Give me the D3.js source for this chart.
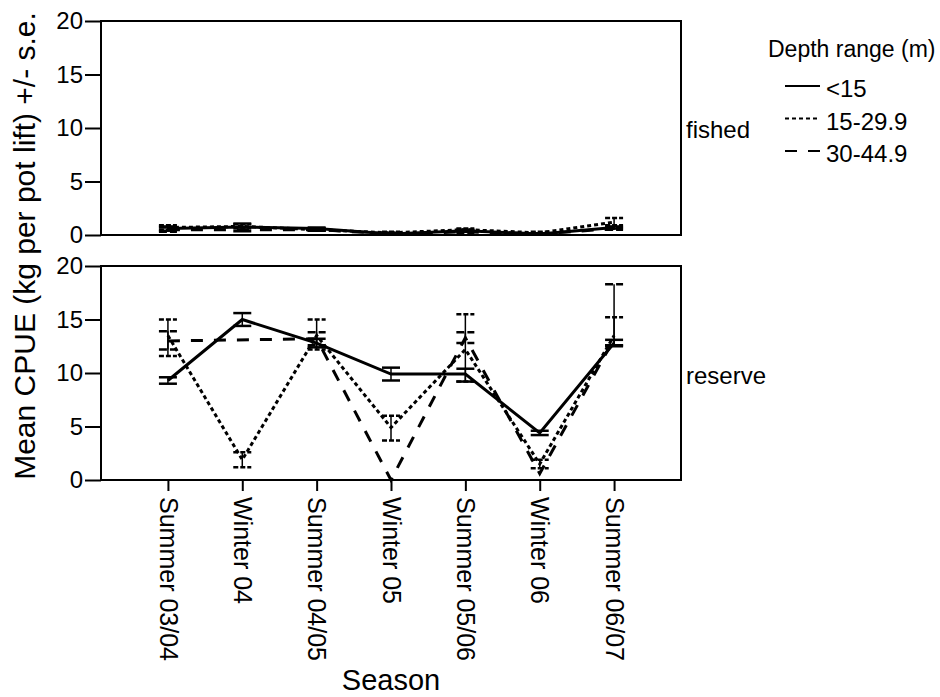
<!DOCTYPE html>
<html>
<head>
<meta charset="utf-8">
<script src="https://cdn.jsdelivr.net/npm/d3@7"></script>
<style>
  body { margin: 0; background: #fff; }
  svg { font-family: "Liberation Sans", Arial, sans-serif; }
</style>
</head>
<body>
<div id="chart"></div>
<script>
// categories
var seasons = ['Summer 03/04', 'Winter 04', 'Summer 04/05', 'Winter 05',
	'Summer 05/06', 'Winter 06', 'Summer 06/07'];
var depthRanges = ['<15', '15-29.9', '30-44.9'];
var yTicks = [0, 5, 10, 15, 20];

// fished panel: means and error bar ends
var fishedLt15 = [0.6, 0.75, 0.6, 0.1, 0.4, 0.1, 0.7];
var fishedLt15Lo = [0.4, 0.35, 0.5, 0.05, 0.3, 0.05, 0.6];
var fishedLt15Hi = [0.8, 1.07, 0.7, 0.15, 0.5, 0.15, 0.8];
var fished15to30 = [0.7, 0.8, 0.5, 0.2, 0.5, 0.2, 1.2];
var fished15to30Lo = [0.5, 0.6, 0.4, 0.1, 0.4, 0.1, 0.9];
var fished15to30Hi = [0.9, 1.0, 0.6, 0.3, 0.6, 0.3, 1.6];
var fished30to45 = [0.5, null, 0.5, 0.1, 0.3, 0.1, 0.6];
var fished30to45Lo = [0.3, null, 0.4, 0.05, 0.2, 0.05, 0.5];
var fished30to45Hi = [0.7, null, 0.6, 0.15, 0.4, 0.15, 0.7];

// reserve panel: means and error bar ends
var reserveLt15 = [9.3, 15.0, 12.8, 9.9, 9.9, 4.4, 12.8];
var reserveLt15Lo = [9.0, 14.4, 12.4, 9.3, 9.2, 4.2, 12.5];
var reserveLt15Hi = [9.6, 15.6, 13.2, 10.5, 10.4, 4.6, 13.1];
var reserve15to30 = [13.5, 1.9, 13.5, 4.9, 12.2, 1.5, 13.5];
var reserve15to30Lo = [11.6, 1.2, 12.2, 3.7, 9.2, 1.1, 12.6];
var reserve15to30Hi = [15.0, 2.6, 15.0, 6.0, 15.5, 1.9, 15.2];
var reserve30to45 = [13.0, null, 13.2, 0.0, 13.3, 0.6, 13.2];
var reserve30to45Lo = [12.2, null, 12.6, 0.0, 12.8, 0.6, 12.6];
var reserve30to45Hi = [13.9, null, 13.8, 0.0, 13.8, 0.6, 18.3];

var width = 940, height = 697;
var left = 101, right = 681;

var dashes = { '<15': null, '15-29.9': '4,3', '30-44.9': '12,11' };
var capDashes = { '<15': null, '15-29.9': '5,2', '30-44.9': '8,3' };

var svg = d3.select('#chart').append('svg')
	.attr('width', width)
	.attr('height', height);

svg.append('rect')
	.attr('width', width)
	.attr('height', height)
	.attr('fill', '#fff');

var x = d3.scalePoint()
	.domain(seasons)
	.range([left, right])
	.padding(0.9);

function buildSeries(means, los, his) {
	return seasons.map(function(s, i) {
		return { season: s, mean: means[i], lo: los[i], hi: his[i] };
	}).filter(function(d) { return d.mean !== null; });
}

var panels = [
	{
		name: 'fished', top: 21, bottom: 235, labelY: 138,
		series: [
			buildSeries(fishedLt15, fishedLt15Lo, fishedLt15Hi),
			buildSeries(fished15to30, fished15to30Lo, fished15to30Hi),
			buildSeries(fished30to45, fished30to45Lo, fished30to45Hi)
		]
	},
	{
		name: 'reserve', top: 266, bottom: 480, labelY: 384,
		series: [
			buildSeries(reserveLt15, reserveLt15Lo, reserveLt15Hi),
			buildSeries(reserve15to30, reserve15to30Lo, reserve15to30Hi),
			buildSeries(reserve30to45, reserve30to45Lo, reserve30to45Hi)
		]
	}
];

panels.forEach(function(p, pi) {
	var y = d3.scaleLinear().domain([0, 20]).range([p.bottom, p.top]);

	var yAxis = svg.append('g')
		.attr('transform', 'translate(' + left + ',0)')
		.call(d3.axisLeft(y).tickValues(yTicks).tickSize(16).tickPadding(2));
	yAxis.select('.domain').remove();
	yAxis.selectAll('line').attr('stroke', '#000').attr('stroke-width', 2);
	yAxis.selectAll('text')
		.style('font-size', '24px')
		.attr('fill', '#000');

	svg.append('rect')
		.attr('x', left)
		.attr('y', p.top)
		.attr('width', right - left)
		.attr('height', p.bottom - p.top)
		.attr('fill', 'none')
		.attr('stroke', '#000')
		.attr('stroke-width', 2);

	var line = d3.line()
		.x(function(d) { return x(d.season); })
		.y(function(d) { return y(d.mean); });

	p.series.forEach(function(data, si) {
		var g = svg.append('g');
		var range = depthRanges[si];

		var bars = g.selectAll('.bar')
			.data(data.filter(function(d) { return d.hi > d.lo; }))
			.enter().append('g');
		bars.append('line')
			.attr('x1', function(d) { return x(d.season); })
			.attr('x2', function(d) { return x(d.season); })
			.attr('y1', function(d) { return y(d.lo); })
			.attr('y2', function(d) { return y(d.hi); })
			.attr('stroke', '#000')
			.attr('stroke-width', 1.5);
		['lo', 'hi'].forEach(function(k) {
			bars.append('line')
				.attr('x1', function(d) { return x(d.season) - 9; })
				.attr('x2', function(d) { return x(d.season) + 9; })
				.attr('y1', function(d) { return y(d[k]); })
				.attr('y2', function(d) { return y(d[k]); })
				.attr('stroke', '#000')
				.attr('stroke-width', 2.5)
				.attr('stroke-dasharray', capDashes[range]);
		});

		g.append('path')
			.datum(data)
			.attr('d', line)
			.attr('fill', 'none')
			.attr('stroke', '#000')
			.attr('stroke-width', 3)
			.attr('stroke-dasharray', dashes[range]);
	});

	svg.append('text')
		.attr('x', 686)
		.attr('y', p.labelY)
		.style('font-size', '24px')
		.attr('fill', '#000')
		.text(p.name);

	if (pi === 1) {
		var xAxis = svg.append('g')
			.attr('transform', 'translate(0,' + p.bottom + ')')
			.call(d3.axisBottom(x).tickSize(11).tickPadding(0));
		xAxis.select('.domain').remove();
		xAxis.selectAll('line').attr('stroke', '#000').attr('stroke-width', 2);
		xAxis.selectAll('text')
			.style('font-size', '25px')
			.attr('fill', '#000')
			.attr('text-anchor', 'start')
			.attr('transform', 'rotate(90)')
			.attr('x', 17)
			.attr('y', 0)
			.attr('dy', '0.35em');
	}
});

// axis titles
svg.append('text')
	.attr('transform', 'translate(35,246) rotate(-90)')
	.attr('text-anchor', 'middle')
	.style('font-size', '30px')
	.attr('fill', '#000')
	.text('Mean CPUE (kg per pot lift) +/- s.e.');

svg.append('text')
	.attr('x', (left + right) / 2)
	.attr('y', 690)
	.attr('text-anchor', 'middle')
	.style('font-size', '29px')
	.attr('fill', '#000')
	.text('Season');

// legend
var legend = svg.append('g');
legend.append('text')
	.attr('x', 768)
	.attr('y', 57)
	.style('font-size', '23px')
	.attr('fill', '#000')
	.text('Depth range (m)');

depthRanges.forEach(function(r, i) {
	var ly = 86 + i * 32.5;
	legend.append('line')
		.attr('x1', 785)
		.attr('x2', 820)
		.attr('y1', ly)
		.attr('y2', ly)
		.attr('stroke', '#000')
		.attr('stroke-width', 2)
		.attr('stroke-dasharray', dashes[r]);
	legend.append('text')
		.attr('x', 826)
		.attr('y', ly + 11)
		.style('font-size', '24px')
		.attr('fill', '#000')
		.text(r);
});
</script>
</body>
</html>
